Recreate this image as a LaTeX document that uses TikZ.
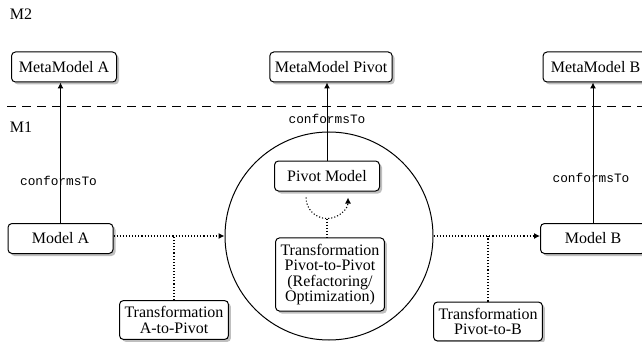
\documentclass[tikz,border=0pt]{standalone}
\usepackage{fontspec}
\setmainfont{Liberation Serif}
\setmonofont{Liberation Mono}
\usetikzlibrary{shadows,arrows.meta}

\begin{document}
\begin{tikzpicture}[x=1pt,y=1pt,
	box/.style={draw,rounded corners=4pt,fill=white,line width=1pt,drop shadow={shadow xshift=2.5pt,shadow yshift=-2.5pt,fill=black!25,opacity=1},minimum width=105pt,minimum height=30pt,inner xsep=5pt,inner ysep=6pt,align=center,font=\fontsize{16}{15.5}\selectfont},
	lab/.style={font=\fontsize{12.8}{13}\selectfont\ttfamily},
	tip/.style={-{Latex[length=6pt,width=6pt]}},
	conn/.style={line width=1pt,tip},
	flow/.style={line width=1.1pt,dash pattern=on 1.1pt off 2pt}]
	\useasboundingbox (0,0) rectangle (642,-342);
	\draw[line width=1pt,dash pattern=on 9pt off 6pt] (7,-107) -- (642,-107);
	\node[draw,circle,line width=1pt,minimum size=208pt] (C) at (329,-236) {};
	\path
	(21,-14) node[font=\fontsize{16}{16}\selectfont] (M2) {M2}
	(21,-127) node[font=\fontsize{16}{16}\selectfont] (M1) {M1}
	(64,-67) node[box] (MMA) {MetaModel A}
	(331,-67) node[box] (MMP) {MetaModel Pivot}
	(595.5,-67) node[box] (MMB) {MetaModel B}
	(60.5,-238.5) node[box] (MA) {Model A}
	(593,-238.5) node[box] (MB) {Model B}
	(327,-176) node[box] (PM) {Pivot Model}
	(330,-274.5) node[box] (TPP) {Transformation\\Pivot-to-Pivot\\(Refactoring/\\Optimization)}
	(174,-320) node[box] (TAP) {Transformation\\A-to-Pivot}
	(488,-321.5) node[box] (TPB) {Transformation\\Pivot-to-B};
	% conformsTo
	\draw[conn] (MA.north) -- (MA.north |- MMA.south) node[lab,pos=.3,xshift=-2pt]{conformsTo};
	\draw[conn] (PM.north) -- (PM.north |- MMP.south) node[lab,pos=.53]{conformsTo};
	\draw[conn] (MB.north) -- (MB.north |- MMB.south) node[lab,pos=.32,xshift=-2pt]{conformsTo};
	% transformations
	\draw[flow,tip] (MA.east |- C.west) -- (C.west);
	\draw[flow] (TAP.north) -- (TAP.north |- C.west);
	\draw[flow,tip] (C.east) -- (MB.west |- C.east);
	\draw[flow] (TPB.north) -- (TPB.north |- C.east);
	\draw[flow,tip] ([xshift=-21pt,yshift=-6pt]PM.south) arc[start angle=180,end angle=360,radius=21pt];
	\coordinate (L) at ([yshift=-27pt]PM.south);
	\draw[flow] (L) -- (L |- TPP.north);
\end{tikzpicture}
\end{document}
